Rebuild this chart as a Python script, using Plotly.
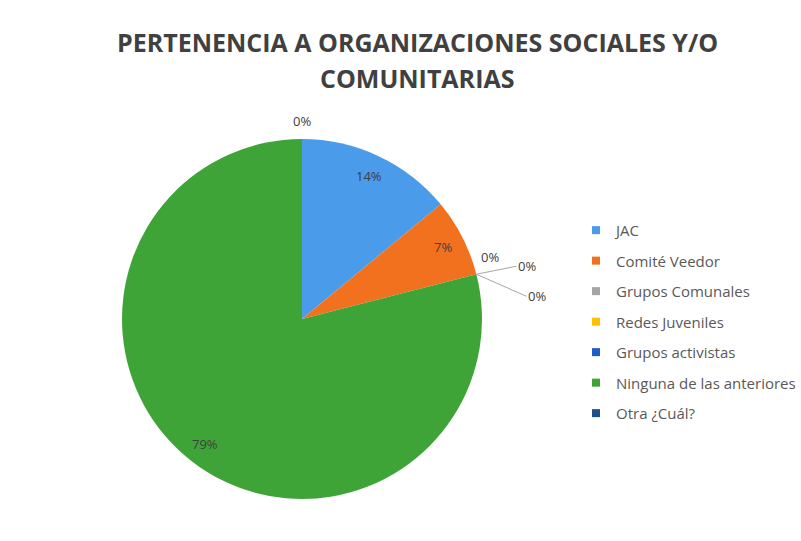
import math
import plotly.graph_objects as go

# Survey answers: membership in social / community organisations
categorias = [
    "JAC",
    "Comité Veedor",
    "Grupos Comunales",
    "Redes Juveniles",
    "Grupos activistas",
    "Ninguna de las anteriores",
    "Otra ¿Cuál?",
]
porcentajes = [14, 7, 0, 0, 0, 79, 0]
colores = ["#4A9BEA", "#F2711F", "#A5A5A5", "#FFC000", "#1F5CC4", "#3EA437", "#1F4E8C"]
titulo = ["PERTENENCIA A ORGANIZACIONES SOCIALES Y/O", "COMUNITARIAS"]

W, H = 801, 541
# pie placement (pixels)
CX, CY, R = 302, 319, 180
dom_x = [(CX - R) / W, (CX + R) / W]
dom_y = [(H - CY - R) / H, (H - CY + R) / H]

fig = go.Figure()
fig.add_trace(
    go.Pie(
        labels=categorias,
        values=porcentajes,
        sort=False,
        direction="clockwise",
        rotation=0,
        marker=dict(colors=colores, line=dict(width=0)),
        textinfo="none",
        domain=dict(x=dom_x, y=dom_y),
        hoverinfo="label+percent",
        showlegend=False,
    )
)

# legend entries (one group per category so the rows can be spaced out)
for cat, col in zip(categorias, colores):
    fig.add_trace(
        go.Scatter(
            x=[None], y=[None], mode="markers", name=cat, legendgroup=cat,
            marker=dict(symbol="square", size=8, color=col),
            hoverinfo="skip", showlegend=True,
        )
    )

# percentage labels placed on each slice's mid-angle (clockwise from 12 o'clock)
total = sum(porcentajes)
acum = 0.0
etiquetas = []
for cat, v in zip(categorias, porcentajes):
    a0 = acum / total * 360
    acum += v
    a1 = acum / total * 360
    etiquetas.append(((a0 + a1) / 2, v))


def to_paper(ang, r):
    px = CX + r * math.sin(math.radians(ang))
    py = CY - r * math.cos(math.radians(ang))
    return px / W, 1 - py / H


fuente = dict(family="Open Sans", size=13, color="#404040")
desplaz_ceros = [(0, 0), (40, -8), (50, 22)]  # outside offsets for stacked 0% labels
n_cero = 0
for i, (ang, v) in enumerate(etiquetas):
    texto = f"{v}%"
    if v > 0:
        x, y = to_paper(ang, 0.88 * R)
        fig.add_annotation(x=x, y=y, xref="paper", yref="paper", text=texto,
                           showarrow=False, font=fuente,
                           xanchor="center", yanchor="middle")
    elif ang % 360 < 1e-9 or abs(ang - 360) < 1e-9:
        x, y = to_paper(0, 1.1 * R)
        fig.add_annotation(x=x, y=y, xref="paper", yref="paper", text=texto,
                           showarrow=False, font=fuente,
                           xanchor="center", yanchor="middle")
    else:
        dx, dy = desplaz_ceros[n_cero]
        n_cero += 1
        if dx == 0:
            x, y = to_paper(ang - 4, 1.1 * R)
            fig.add_annotation(x=x, y=y, xref="paper", yref="paper", text=texto,
                               showarrow=False, font=fuente,
                               xanchor="center", yanchor="middle")
        else:
            x, y = to_paper(ang, R)
            fig.add_annotation(x=x, y=y, xref="paper", yref="paper", text=texto,
                               showarrow=True, arrowhead=0, arrowwidth=1,
                               arrowcolor="#A6A6A6", ax=dx, ay=dy,
                               xanchor="left", font=fuente)

# two-line chart title
fuente_titulo = dict(family="Open Sans", size=25, color="#404040")
for linea, ypix in zip(titulo, [42, 78]):
    fig.add_annotation(x=417 / W, y=1 - ypix / H, xref="paper", yref="paper",
                       text=f"<b>{linea}</b>", showarrow=False, font=fuente_titulo,
                       xanchor="center", yanchor="middle")

fig.update_layout(
    width=W,
    height=H,
    margin=dict(l=0, r=0, t=0, b=0),
    paper_bgcolor="white",
    plot_bgcolor="white",
    xaxis=dict(visible=False),
    yaxis=dict(visible=False),
    legend=dict(
        x=0.7195,
        xanchor="left",
        y=0.405,
        yanchor="middle",
        font=dict(family="Open Sans", size=15, color="#595959"),
        itemwidth=30,
        tracegroupgap=8,
        bgcolor="rgba(0,0,0,0)",
    ),
)

fig.write_html("out.html")
